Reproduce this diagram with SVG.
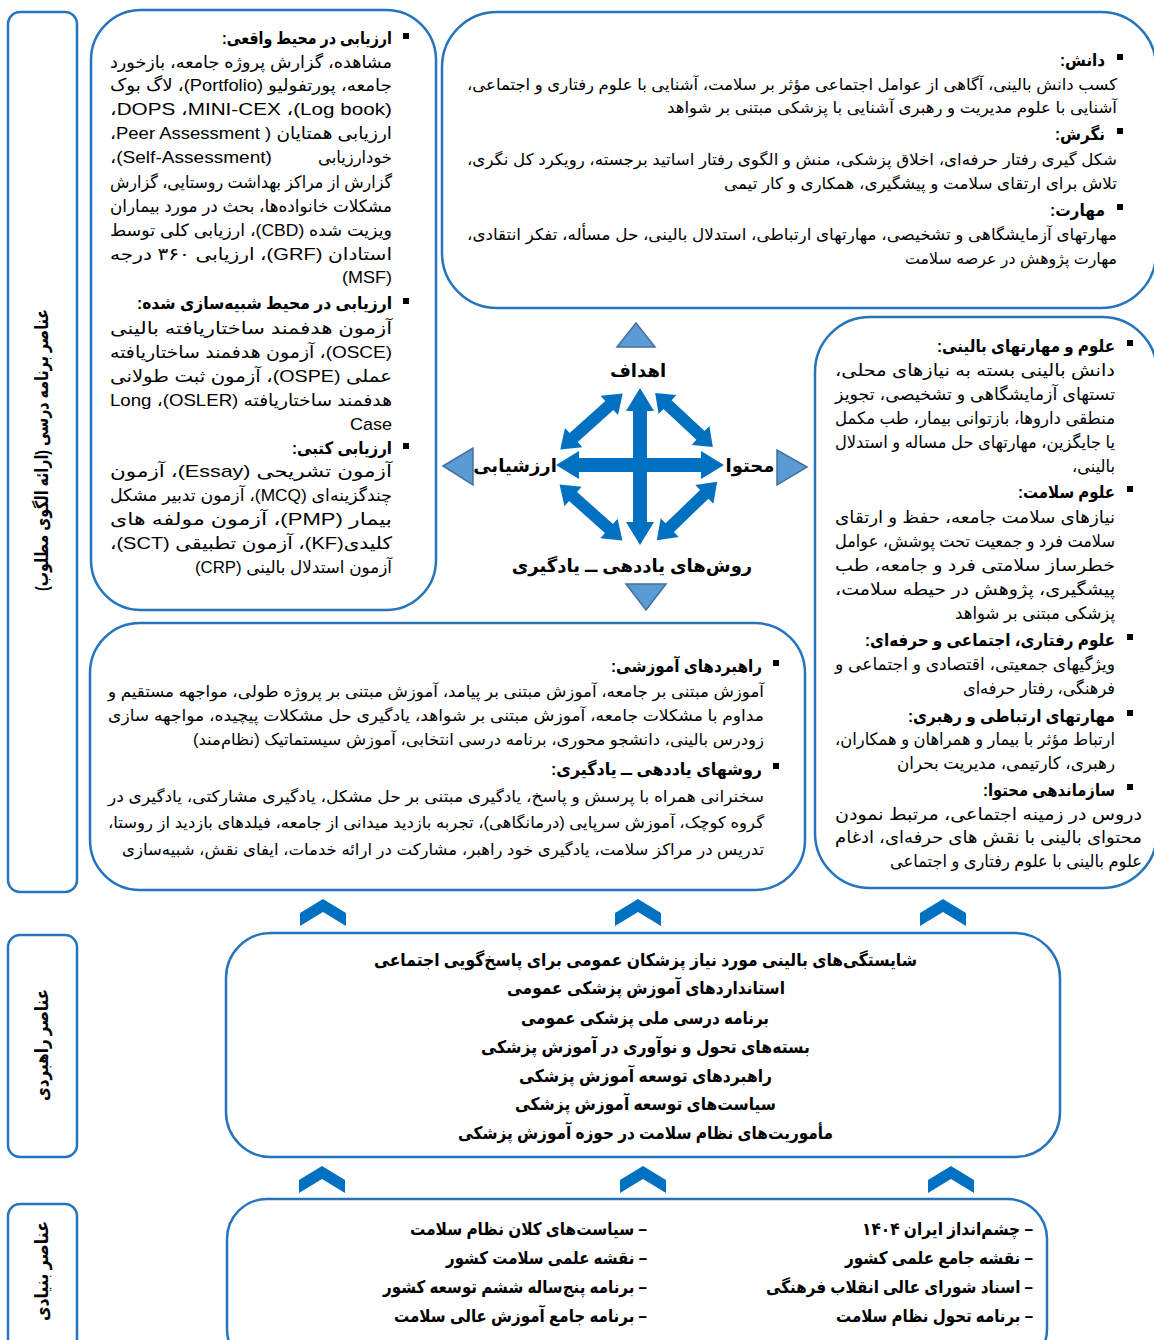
<svg xmlns="http://www.w3.org/2000/svg" width="1154" height="1340" viewBox="0 0 1154 1340">
<style>
.box{fill:#fff;stroke:#2574BD;stroke-width:2.5}
.t{font-family:'Liberation Sans','DejaVu Sans',sans-serif;font-size:16px;fill:#000;direction:rtl;text-anchor:start}
.lg{font-size:17px}
.h{font-weight:bold;font-size:17px}
.m{text-anchor:middle}
.b{font-weight:bold;font-size:17.5px}
.lbl{font-family:'Liberation Sans','DejaVu Sans',sans-serif;font-size:18px;font-weight:bold;fill:#000;direction:rtl;text-anchor:middle}
.bul{fill:#000}
.arr{fill:#0070C0}
.tri{fill:#5B9BD5;stroke:#41719C;stroke-width:1.5}
.hol{fill:#fff;stroke:#4A6FA5;stroke-width:2}
</style>
<defs>
<polygon id="darrow" points="-42,0 -24,-13 -24,-6 24,-6 24,-13 42,0 24,13 24,6 -24,6 -24,13"/>
<polygon id="chev" points="-23,27 -23,14 0,0 23,14 23,27 0,13"/>
<polygon id="hup" points="0,0 19,21 8,21 8,46 -8,46 -8,21 -19,21"/>
</defs>

<g id="label-curriculum">
<rect class="box" x="8" y="12" width="69" height="880" rx="12"/>
<text class="lbl" transform="translate(48,450) rotate(-90)" textLength="282" lengthAdjust="spacingAndGlyphs">عناصر برنامه درسی (ارائه الگوی مطلوب)</text>
</g>
<g id="label-strategic">
<rect class="box" x="8" y="935" width="69" height="222" rx="12"/>
<text class="lbl" transform="translate(48,1045) rotate(-90)" textLength="112" lengthAdjust="spacingAndGlyphs">عناصر راهبردی</text>
</g>
<g id="label-foundation">
<rect class="box" x="8" y="1204" width="69" height="160" rx="12"/>
<text class="lbl" transform="translate(48,1271) rotate(-90)" textLength="100" lengthAdjust="spacingAndGlyphs">عناصر بنیادی</text>
</g>

<g id="assessment">
<rect class="box" x="91" y="10" width="345" height="600" rx="50"/>
<rect class="bul" x="403" y="33" width="6" height="6"/>
<text class="t h" x="392" y="44" textLength="170" lengthAdjust="spacingAndGlyphs">ارزیابی در محیط واقعی:</text>
<text class="t lg" x="392" y="68" textLength="282" lengthAdjust="spacingAndGlyphs">مشاهده، گزارش پروژه جامعه، بازخورد</text>
<text class="t lg" x="392" y="91" textLength="282" lengthAdjust="spacingAndGlyphs">جامعه، پورتفولیو (Portfolio)، لاگ بوک</text>
<text class="t lg" x="392" y="115" textLength="282" lengthAdjust="spacingAndGlyphs">(Log book)،&#x200F; MINI-CEX،&#x200F; DOPS،</text>
<text class="t lg" x="392" y="139" textLength="282" lengthAdjust="spacingAndGlyphs">ارزیابی همتایان ( Peer Assessment،</text>
<text class="t lg" x="392" y="163" textLength="74" lengthAdjust="spacingAndGlyphs">خودارزیابی</text>
<text class="t lg" x="272" y="163" textLength="162" lengthAdjust="spacingAndGlyphs">(Self-Assessment)،</text>
<text class="t lg" x="392" y="188" textLength="282" lengthAdjust="spacingAndGlyphs">گزارش از مراکز بهداشت روستایی، گزارش</text>
<text class="t lg" x="392" y="212" textLength="282" lengthAdjust="spacingAndGlyphs">مشکلات خانواده‌ها، بحث در مورد بیماران</text>
<text class="t lg" x="392" y="236" textLength="282" lengthAdjust="spacingAndGlyphs">ویزیت شده (CBD)، ارزیابی کلی توسط</text>
<text class="t lg" x="392" y="260" textLength="282" lengthAdjust="spacingAndGlyphs">استادان (GRF)، ارزیابی ۳۶۰ درجه</text>
<text class="t lg" x="392" y="283" textLength="50" lengthAdjust="spacingAndGlyphs">(MSF)</text>
<rect class="bul" x="403" y="298" width="6" height="6"/>
<text class="t h" x="392" y="309" textLength="255" lengthAdjust="spacingAndGlyphs">ارزیابی در محیط شبیه‌سازی شده:</text>
<text class="t lg" x="392" y="334" textLength="282" lengthAdjust="spacingAndGlyphs">آزمون هدفمند ساختاریافته بالینی</text>
<text class="t lg" x="392" y="358" textLength="282" lengthAdjust="spacingAndGlyphs">(OSCE)، آزمون هدفمند ساختاریافته</text>
<text class="t lg" x="392" y="382" textLength="282" lengthAdjust="spacingAndGlyphs">عملی (OSPE)، آزمون ثبت طولانی</text>
<text class="t lg" x="392" y="406" textLength="282" lengthAdjust="spacingAndGlyphs">هدفمند ساختاریافته (OSLER)، Long</text>
<text class="t lg" x="392" y="430" textLength="42" lengthAdjust="spacingAndGlyphs">Case</text>
<rect class="bul" x="403" y="443" width="6" height="6"/>
<text class="t h" x="392" y="454" textLength="100" lengthAdjust="spacingAndGlyphs">ارزیابی کتبی:</text>
<text class="t lg" x="392" y="477" textLength="282" lengthAdjust="spacingAndGlyphs">آزمون تشریحی (Essay)، آزمون</text>
<text class="t lg" x="392" y="501" textLength="282" lengthAdjust="spacingAndGlyphs">چندگزینه‌ای (MCQ)، آزمون تدبیر مشکل</text>
<text class="t lg" x="392" y="525" textLength="282" lengthAdjust="spacingAndGlyphs">بیمار (PMP)، آزمون مولفه های</text>
<text class="t lg" x="392" y="549" textLength="282" lengthAdjust="spacingAndGlyphs">کلیدی(KF)، آزمون تطبیقی (SCT)،</text>
<text class="t lg" x="392" y="573" textLength="197" lengthAdjust="spacingAndGlyphs">آزمون استدلال بالینی (CRP)</text>
</g>

<g id="goals">
<rect class="box" x="442" y="12" width="714" height="296" rx="55"/>
<rect class="bul" x="1117" y="54" width="6" height="6"/>
<text class="t h" x="1105" y="66" textLength="45" lengthAdjust="spacingAndGlyphs">دانش:</text>
<text class="t" x="1117" y="90" textLength="650" lengthAdjust="spacingAndGlyphs">کسب دانش بالینی، آگاهی از عوامل اجتماعی مؤثر بر سلامت، آشنایی با علوم رفتاری و اجتماعی،</text>
<text class="t" x="1117" y="113" textLength="450" lengthAdjust="spacingAndGlyphs">آشنایی با علوم مدیریت و رهبری آشنایی با پزشکی مبتنی بر شواهد</text>
<rect class="bul" x="1117" y="128" width="6" height="6"/>
<text class="t h" x="1105" y="140" textLength="50" lengthAdjust="spacingAndGlyphs">نگرش:</text>
<text class="t" x="1117" y="165" textLength="650" lengthAdjust="spacingAndGlyphs">شکل گیری رفتار حرفه‌ای، اخلاق پزشکی، منش و الگوی رفتار اساتید برجسته، رویکرد کل نگری،</text>
<text class="t" x="1117" y="189" textLength="393" lengthAdjust="spacingAndGlyphs">تلاش برای ارتقای سلامت و پیشگیری، همکاری و کار تیمی</text>
<rect class="bul" x="1117" y="204" width="6" height="6"/>
<text class="t h" x="1105" y="216" textLength="55" lengthAdjust="spacingAndGlyphs">مهارت:</text>
<text class="t" x="1117" y="240" textLength="650" lengthAdjust="spacingAndGlyphs">مهارتهای آزمایشگاهی و تشخیصی، مهارتهای ارتباطی، استدلال بالینی، حل مسأله، تفکر انتقادی،</text>
<text class="t" x="1117" y="264" textLength="212" lengthAdjust="spacingAndGlyphs">مهارت پژوهش در عرصه سلامت</text>
</g>

<g id="content">
<rect class="box" x="815" y="317" width="342" height="571" rx="55"/>
<rect class="bul" x="1127" y="340" width="6" height="6"/>
<text class="t h" x="1115" y="352" textLength="178" lengthAdjust="spacingAndGlyphs">علوم و مهارتهای بالینی:</text>
<text class="t lg" x="1115" y="376" textLength="280" lengthAdjust="spacingAndGlyphs">دانش بالینی بسته به نیازهای محلی،</text>
<text class="t lg" x="1115" y="400" textLength="280" lengthAdjust="spacingAndGlyphs">تستهای آزمایشگاهی و تشخیصی، تجویز</text>
<text class="t lg" x="1115" y="424" textLength="280" lengthAdjust="spacingAndGlyphs">منطقی داروها، بازتوانی بیمار، طب مکمل</text>
<text class="t lg" x="1115" y="448" textLength="280" lengthAdjust="spacingAndGlyphs">یا جایگزین، مهارتهای حل مساله و استدلال</text>
<text class="t lg" x="1115" y="472" textLength="43" lengthAdjust="spacingAndGlyphs">بالینی،</text>
<rect class="bul" x="1127" y="486" width="6" height="6"/>
<text class="t h" x="1115" y="498" textLength="97" lengthAdjust="spacingAndGlyphs">علوم سلامت:</text>
<text class="t lg" x="1115" y="523" textLength="280" lengthAdjust="spacingAndGlyphs">نیازهای سلامت جامعه، حفظ و ارتقای</text>
<text class="t lg" x="1115" y="547" textLength="280" lengthAdjust="spacingAndGlyphs">سلامت فرد و جمعیت تحت پوشش، عوامل</text>
<text class="t lg" x="1115" y="571" textLength="280" lengthAdjust="spacingAndGlyphs">خطرساز سلامتی فرد و جامعه، طب</text>
<text class="t lg" x="1115" y="595" textLength="280" lengthAdjust="spacingAndGlyphs">پیشگیری، پژوهش در حیطه سلامت،</text>
<text class="t lg" x="1115" y="619" textLength="160" lengthAdjust="spacingAndGlyphs">پزشکی مبتنی بر شواهد</text>
<rect class="bul" x="1127" y="634" width="6" height="6"/>
<text class="t h" x="1115" y="646" textLength="250" lengthAdjust="spacingAndGlyphs">علوم رفتاری، اجتماعی و حرفه‌ای:</text>
<text class="t lg" x="1115" y="670" textLength="280" lengthAdjust="spacingAndGlyphs">ویژگیهای جمعیتی، اقتصادی و اجتماعی و</text>
<text class="t lg" x="1115" y="694" textLength="152" lengthAdjust="spacingAndGlyphs">فرهنگی، رفتار حرفه‌ای</text>
<rect class="bul" x="1127" y="710" width="6" height="6"/>
<text class="t h" x="1115" y="722" textLength="207" lengthAdjust="spacingAndGlyphs">مهارتهای ارتباطی و رهبری:</text>
<text class="t lg" x="1115" y="745" textLength="280" lengthAdjust="spacingAndGlyphs">ارتباط مؤثر با بیمار و همراهان و همکاران،</text>
<text class="t lg" x="1115" y="769" textLength="218" lengthAdjust="spacingAndGlyphs">رهبری، کارتیمی، مدیریت بحران</text>
<rect class="bul" x="1127" y="784" width="6" height="6"/>
<text class="t h" x="1115" y="796" textLength="132" lengthAdjust="spacingAndGlyphs">سازماندهی محتوا:</text>
<text class="t lg" x="1142" y="820" textLength="307" lengthAdjust="spacingAndGlyphs">دروس در زمینه اجتماعی، مرتبط نمودن</text>
<text class="t lg" x="1142" y="843" textLength="307" lengthAdjust="spacingAndGlyphs">محتوای بالینی با نقش های حرفه‌ای، ادغام</text>
<text class="t lg" x="1142" y="867" textLength="252" lengthAdjust="spacingAndGlyphs">علوم بالینی با علوم رفتاری و اجتماعی</text>
</g>

<g id="methods">
<rect class="box" x="90" y="623" width="715" height="267" rx="50"/>
<rect class="bul" x="773" y="660" width="6" height="6"/>
<text class="t h" x="762" y="672" textLength="151" lengthAdjust="spacingAndGlyphs">راهبردهای آموزشی:</text>
<text class="t" x="764" y="697" textLength="656" lengthAdjust="spacingAndGlyphs">آموزش مبتنی بر جامعه،  آموزش مبتنی بر پیامد، آموزش مبتنی بر پروژه طولی، مواجهه مستقیم و</text>
<text class="t" x="764" y="721" textLength="656" lengthAdjust="spacingAndGlyphs">مداوم با مشکلات جامعه، آموزش مبتنی بر شواهد، یادگیری حل مشکلات پیچیده، مواجهه سازی</text>
<text class="t" x="764" y="745" textLength="571" lengthAdjust="spacingAndGlyphs">زودرس بالینی، دانشجو محوری، برنامه درسی انتخابی، آموزش سیستماتیک (نظام‌مند)</text>
<rect class="bul" x="773" y="763" width="6" height="6"/>
<text class="t h" x="762" y="775" textLength="211" lengthAdjust="spacingAndGlyphs">روشهای یاددهی ــ یادگیری:</text>
<text class="t" x="764" y="802" textLength="656" lengthAdjust="spacingAndGlyphs">سخنرانی همراه با پرسش و پاسخ، یادگیری مبتنی بر حل مشکل،  یادگیری مشارکتی، یادگیری در</text>
<text class="t" x="764" y="828" textLength="656" lengthAdjust="spacingAndGlyphs">گروه کوچک، آموزش سرپایی (درمانگاهی)، تجربه بازدید میدانی از جامعه، فیلدهای بازدید از روستا،</text>
<text class="t" x="764" y="855" textLength="642" lengthAdjust="spacingAndGlyphs">تدریس در مراکز سلامت، یادگیری خود راهبر، مشارکت در ارائه خدمات، ایفای نقش، شبیه‌سازی</text>
</g>

<g id="core">
<polygon class="tri" points="636,323 655,347 617,347"/>
<polygon class="tri" points="646,610 666,584 626,584"/>
<polygon class="tri" points="443,466 473,448 473,485"/>
<polygon class="tri" points="807,467 777,450 777,485"/>
<text class="lbl" x="638" y="377">اهداف</text>
<text class="lbl" x="515" y="472">ارزشیابی</text>
<text class="lbl" x="750" y="472">محتوا</text>
<text class="lbl" x="632" y="572">روش‌های یاددهی ــ یادگیری</text>
</g>

<g id="connectors">
<polygon class="arr" points="640,388 654,411 647,411 647,522 654,522 640,545 626,522 633,522 633,411 626,411"/>
<polygon class="arr" points="556,465 579,451 579,458 701,458 701,451 724,465 701,479 701,472 579,472 579,479"/>
<use href="#darrow" class="arr" transform="translate(591.5,421.5) rotate(-42)"/>
<use href="#darrow" class="arr" transform="translate(684,420) rotate(43) scale(0.94,1)"/>
<use href="#darrow" class="arr" transform="translate(591,512.5) rotate(41.6)"/>
<use href="#darrow" class="arr" transform="translate(687,511) rotate(-44)"/>
<use href="#chev" class="arr" transform="translate(323,899)"/>
<use href="#chev" class="arr" transform="translate(638,899)"/>
<use href="#chev" class="arr" transform="translate(943,899)"/>
<use href="#chev" class="arr" transform="translate(322,1166)"/>
<use href="#chev" class="arr" transform="translate(643,1166)"/>
<use href="#chev" class="arr" transform="translate(951,1166)"/>
<use href="#hup" class="hol" transform="translate(324,978)"/>
<use href="#hup" class="hol" transform="translate(324,1057)"/>
</g>

<g id="strategic">
<rect class="box" x="226" y="933" width="834" height="224" rx="45"/>
<text class="t b m" x="645.5" y="966" textLength="543" lengthAdjust="spacingAndGlyphs">شایستگی‌های بالینی مورد نیاز پزشکان عمومی برای پاسخ‌گویی اجتماعی</text>
<text class="t b m" x="646" y="994" textLength="278" lengthAdjust="spacingAndGlyphs">استانداردهای آموزش پزشکی عمومی</text>
<text class="t b m" x="645" y="1024" textLength="248" lengthAdjust="spacingAndGlyphs">برنامه درسی ملی پزشکی عمومی</text>
<text class="t b m" x="645.5" y="1053" textLength="329" lengthAdjust="spacingAndGlyphs">بسته‌های تحول و نوآوری در آموزش پزشکی</text>
<text class="t b m" x="645.5" y="1082" textLength="253" lengthAdjust="spacingAndGlyphs">راهبردهای توسعه آموزش پزشکی</text>
<text class="t b m" x="645.5" y="1110" textLength="261" lengthAdjust="spacingAndGlyphs">سیاست‌های توسعه آموزش پزشکی</text>
<text class="t b m" x="645.5" y="1139" textLength="375" lengthAdjust="spacingAndGlyphs">مأموریت‌های نظام سلامت در حوزه آموزش پزشکی</text>
</g>

<g id="foundation">
<rect class="box" x="227" y="1199" width="820" height="170" rx="40"/>
<text class="t b" x="1033" y="1235" textLength="171" lengthAdjust="spacingAndGlyphs">– چشم‌انداز ایران ۱۴۰۴</text>
<text class="t b" x="1033" y="1264" textLength="188" lengthAdjust="spacingAndGlyphs">– نقشه جامع علمی کشور</text>
<text class="t b" x="1033" y="1293" textLength="267" lengthAdjust="spacingAndGlyphs">– اسناد شورای عالی انقلاب فرهنگی</text>
<text class="t b" x="1033" y="1322" textLength="197" lengthAdjust="spacingAndGlyphs">– برنامه تحول نظام سلامت</text>
<text class="t b" x="647" y="1235" textLength="237" lengthAdjust="spacingAndGlyphs">– سیاست‌های کلان نظام سلامت</text>
<text class="t b" x="647" y="1264" textLength="201" lengthAdjust="spacingAndGlyphs">– نقشه علمی سلامت کشور</text>
<text class="t b" x="647" y="1293" textLength="264" lengthAdjust="spacingAndGlyphs">– برنامه پنج‌ساله ششم توسعه کشور</text>
<text class="t b" x="647" y="1322" textLength="253" lengthAdjust="spacingAndGlyphs">– برنامه جامع آموزش عالی سلامت</text>
</g>
</svg>
